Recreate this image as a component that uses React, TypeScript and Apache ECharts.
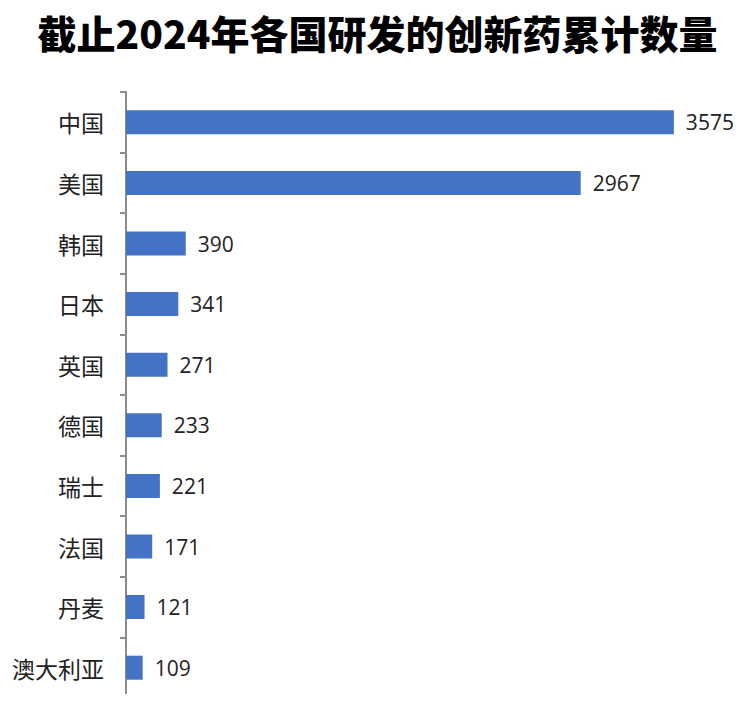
import React, { useEffect, useRef } from "react";
import * as echarts from "echarts";

const categories = ["中国", "美国", "韩国", "日本", "英国", "德国", "瑞士", "法国", "丹麦", "澳大利亚"];
const values = [3575, 2967, 390, 341, 271, 233, 221, 171, 121, 109];
const titleText = "截止2024年各国研发的创新药累计数量";

export default function App() {
  const ref = useRef<HTMLDivElement>(null);
  useEffect(() => {
    const chart = echarts.init(ref.current!, null, { renderer: "svg" });
    chart.setOption({
      animation: false,
      backgroundColor: "#ffffff",
      title: {
        text: titleText,
        left: "center",
        top: 7,
        textStyle: {
          fontFamily: "Noto Sans CJK SC",
          fontWeight: 900,
          fontSize: 39,
          color: "#000000",
        },
      },
      grid: { left: 126, right: 16, top: 92, bottom: 4, containLabel: false },
      xAxis: {
        type: "value",
        min: 0,
        max: 4000,
        show: false,
      },
      yAxis: {
        type: "category",
        data: categories,
        inverse: true,
        axisLine: { show: true, lineStyle: { color: "#8c8c8c", width: 2 } },
        axisTick: { show: true, length: 6, lineStyle: { color: "#8c8c8c", width: 2 } },
        axisLabel: {
          margin: 22,
          fontFamily: "Noto Sans CJK SC",
          fontSize: 23,
          color: "#222222",
        },
      },
      series: [
        {
          type: "bar",
          data: values,
          barWidth: 24,
          itemStyle: { color: "#4472C4" },
          label: {
            show: true,
            position: "right",
            distance: 12,
            fontFamily: "Open Sans",
            fontSize: 21,
            color: "#222222",
          },
        },
      ],
    });
    return () => chart.dispose();
  }, []);
  return <div ref={ref} style={{ width: 755, height: 702, margin: -8 }} />;
}
